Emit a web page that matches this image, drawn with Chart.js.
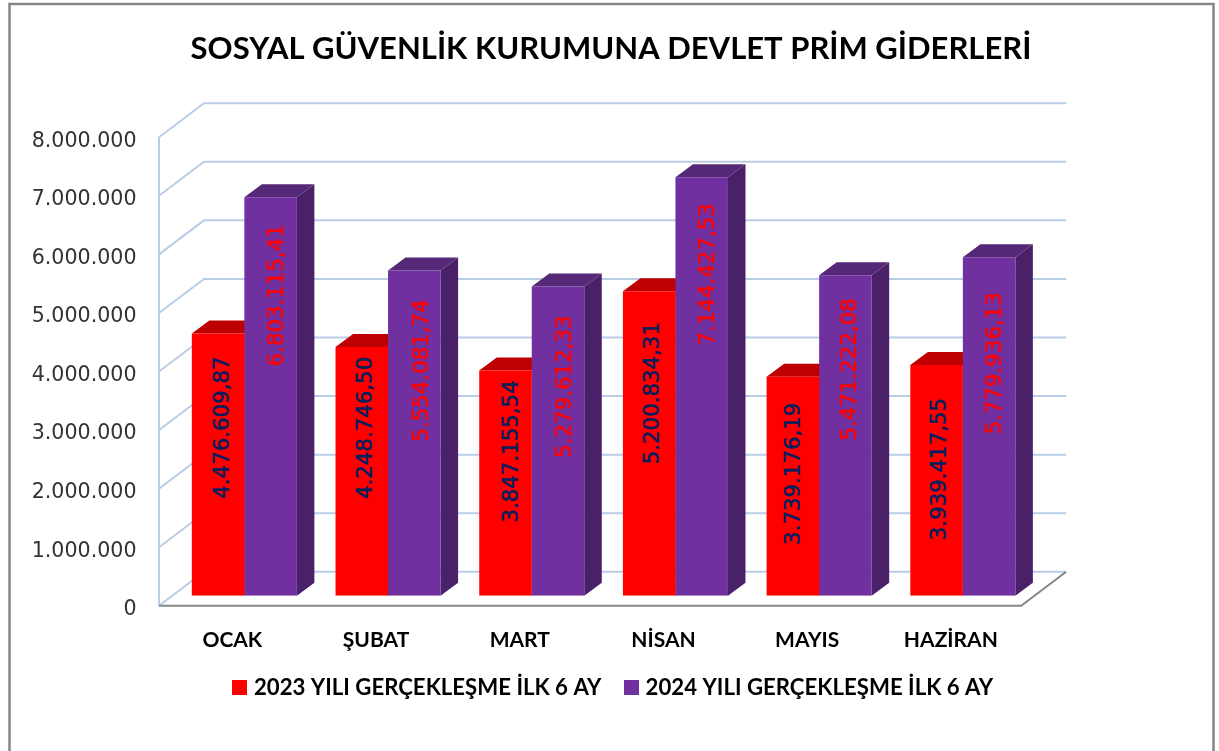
<!DOCTYPE html>
<html lang="tr">
<head>
<meta charset="utf-8">
<title>SOSYAL GÜVENLİK KURUMUNA DEVLET PRİM GİDERLERİ</title>
<script src="https://cdn.jsdelivr.net/npm/chart.js@4/dist/chart.umd.min.js"></script>
<style>html,body{margin:0;padding:0;background:#fff;overflow:hidden}canvas{display:block}</style>
</head>
<body>
<canvas id="c" width="1219" height="751"></canvas>
<script>
const titleText = 'SOSYAL GÜVENLİK KURUMUNA DEVLET PRİM GİDERLERİ';
const categories = ['OCAK', 'ŞUBAT', 'MART', 'NİSAN', 'MAYIS', 'HAZİRAN'];
const seriesNames = ['2023 YILI GERÇEKLEŞME İLK 6 AY', '2024 YILI GERÇEKLEŞME İLK 6 AY'];
const seriesColors = ['#ff0000', '#7030a0'];
const values2023 = [4476609.87, 4248746.50, 3847155.54, 5200834.31, 3739176.19, 3939417.55];
const values2024 = [6803115.41, 5554081.74, 5279612.33, 7144427.53, 5471222.08, 5779936.13];

// Hand placement of the rotated value labels
const labelDrop2023 = [94, 81, 81, 102, 97, 104];
const labelDrop2024 = [98, 100, 100, 97, 94, 106];
const labelShift2023 = [5, 5, 7, 4, 2, 4];
const labelShift2024 = [7, 8, 7, 7, 5, 6];

const fmtTick = v => Math.round(v).toString().replace(/\B(?=(\d{3})+$)/g, '.');
const fmtValue = v => {
  const [i, d] = v.toFixed(2).split('.');
  return i.replace(/\B(?=(\d{3})+$)/g, '.') + ',' + d;
};

// 3D projection offsets (px) relative to the bar plane
const FRONT = {dx: -13.5, dy: 10};
const BACK = {dx: 31.5, dy: -24};
const BAR_DEPTH = {dx: 17.5, dy: -13};
const GRID = '#b9cde5';
const EDGE = '#868686';
const faces = [
  {top: '#bf0000', side: '#a80000'},
  {top: '#562878', side: '#4a2168'}
];

// square legend swatches, so the gap to the legend text can match the picture
const swatches = seriesColors.map(color => {
  const cv = document.createElement('canvas');
  cv.width = 15;
  cv.height = 15;
  const g = cv.getContext('2d');
  g.fillStyle = color;
  g.fillRect(0, 0, 15, 15);
  return cv;
});

function poly(ctx, pts, fill) {
  ctx.beginPath();
  pts.forEach((p, i) => i ? ctx.lineTo(p[0], p[1]) : ctx.moveTo(p[0], p[1]));
  ctx.closePath();
  ctx.fillStyle = fill;
  ctx.fill();
}
function line(ctx, pts, color, w) {
  ctx.beginPath();
  pts.forEach((p, i) => i ? ctx.lineTo(p[0], p[1]) : ctx.moveTo(p[0], p[1]));
  ctx.strokeStyle = color;
  ctx.lineWidth = w;
  ctx.stroke();
}

const frame3d = {
  id: 'frame3d',
  afterLayout(chart) {
    // title and legend are centred on the picture, not on the plot
    chart.titleBlock.left = 0;
    chart.titleBlock.right = 1222;
    chart.legend.left = 0;
    chart.legend.right = 1229;
  },
  beforeDatasetsDraw(chart) {
    const {ctx, chartArea: a, scales: {y}} = chart;
    ctx.save();
    // outer picture frame
    line(ctx, [[9.5, 751], [9.5, 4], [1213.5, 4], [1213.5, 751]], EDGE, 2.5);
    // walls
    const fx = a.left + FRONT.dx, bx = a.left + BACK.dx, rx = a.right + BACK.dx, frx = a.right + FRONT.dx;
    y.ticks.forEach(t => {
      const p = y.getPixelForValue(t.value);
      line(ctx, [[fx, p + FRONT.dy], [bx, p + BACK.dy], [rx, p + BACK.dy]], GRID, 2);
    });
    line(ctx, [[fx, y.getPixelForValue(y.max) + FRONT.dy], [fx, y.getPixelForValue(0) + FRONT.dy]], GRID, 2);
    // floor front edge
    const z = y.getPixelForValue(0);
    line(ctx, [[fx, z + FRONT.dy], [frx, z + FRONT.dy], [rx, z + BACK.dy]], EDGE, 2);
    // bar sides and tops
    chart.data.labels.forEach((_, i) => {
      chart.data.datasets.forEach((_, s) => {
        const el = chart.getDatasetMeta(s).data[i];
        const l = el.x - el.width / 2, r = el.x + el.width / 2;
        const dx = BAR_DEPTH.dx, dy = BAR_DEPTH.dy;
        poly(ctx, [[r, el.base], [r + dx, el.base + dy], [r + dx, el.y + dy], [r, el.y]], faces[s].side);
        poly(ctx, [[l, el.y], [l + dx, el.y + dy], [r + dx, el.y + dy], [r, el.y]], faces[s].top);
      });
    });
    ctx.restore();
  },
  afterDatasetsDraw(chart) {
    const {ctx} = chart;
    const drops = [labelDrop2023, labelDrop2024];
    const shifts = [labelShift2023, labelShift2024];
    const colors = ['#002060', '#ff0000'];
    ctx.save();
    ctx.font = '21.3px "DejaVu Sans"';
    ctx.textAlign = 'center';
    ctx.textBaseline = 'middle';
    ctx.lineWidth = 0.5;
    chart.data.datasets.forEach((ds, s) => {
      chart.getDatasetMeta(s).data.forEach((el, i) => {
        ctx.save();
        ctx.translate(el.x + shifts[s][i], el.y + drops[s][i]);
        ctx.rotate(-Math.PI / 2);
        ctx.fillStyle = colors[s];
        ctx.strokeStyle = colors[s];
        ctx.fillText(fmtValue(ds.data[i]), 0, 0);
        ctx.strokeText(fmtValue(ds.data[i]), 0, 0);
        ctx.restore();
      });
    });
    ctx.restore();
  }
};

new Chart(document.getElementById('c'), {
  type: 'bar',
  data: {
    labels: categories,
    datasets: [
      {label: seriesNames[0], data: values2023, backgroundColor: seriesColors[0], borderWidth: 0},
      {label: seriesNames[1], data: values2024, backgroundColor: seriesColors[1], borderWidth: 0}
    ]
  },
  options: {
    responsive: false,
    animation: false,
    events: [],
    layout: {padding: {top: 0, left: 0, right: 184.3, bottom: 42}},
    datasets: {bar: {categoryPercentage: 0.731, barPercentage: 1}},
    plugins: {
      tooltip: {enabled: false},
      title: {
        display: true,
        text: titleText,
        color: '#000',
        font: {family: 'Lato', size: 31, weight: 'bold', lineHeight: 1.2},
        padding: {top: 30, bottom: 60},
        position: 'top',
        fullSize: true
      },
      legend: {
        display: true,
        position: 'bottom',
        labels: {
          color: '#000',
          font: {family: 'Lato', size: 22.2, weight: 'bold'},
          usePointStyle: true,
          boxWidth: 7,
          boxHeight: 15,
          padding: 26,
          generateLabels(chart) {
            const items = Chart.defaults.plugins.legend.labels.generateLabels(chart);
            items.forEach((it, i) => { it.pointStyle = swatches[i]; });
            return items;
          }
        }
      }
    },
    scales: {
      x: {
        grid: {display: false, drawTicks: false},
        border: {display: false},
        afterFit(s) { s.height = 55; },
        ticks: {
          color: '#000',
          font: {family: 'Lato', size: 21, weight: 'bold'},
          padding: 32,
          labelOffset: -12,
          autoSkip: false,
          maxRotation: 0
        }
      },
      y: {
        min: 0,
        max: 8000000,
        grid: {display: false, drawTicks: false},
        border: {display: false},
        afterFit(s) { s.width = 172.5; },
        ticks: {
          stepSize: 1000000,
          color: '#333',
          font: {family: '"DejaVu Sans"', size: 20.6},
          padding: 36,
          labelOffset: 14,
          callback: fmtTick
        }
      }
    }
  },
  plugins: [frame3d]
});
</script>
</body>
</html>
